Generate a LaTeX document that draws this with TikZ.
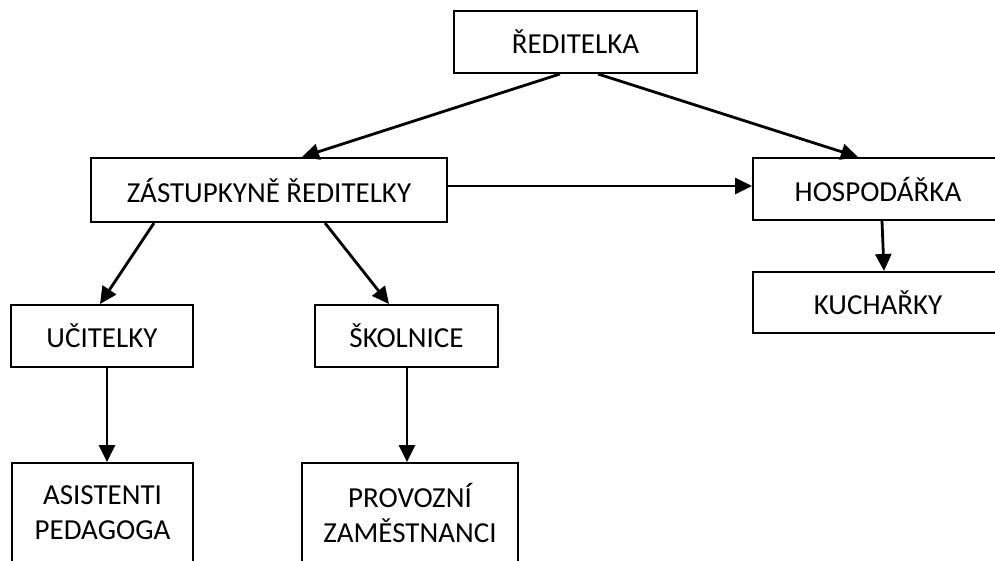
\documentclass[tikz,border=0pt]{standalone}
\usepackage{fontspec}
\setmainfont{Carlito}
\usetikzlibrary{arrows.meta,calc}
\begin{document}
\begin{tikzpicture}[x=1pt,y=-1pt,
  box/.style={draw=black,line width=2pt,fill=white,inner sep=0pt,align=center,
    font=\fontsize{29}{35}\selectfont},
  conn/.style={line width=2.8pt,-{Triangle[length=17pt,width=16pt]}}]
\useasboundingbox (0,0) rectangle (995,560);
\node[box,minimum width=243pt,minimum height=62pt] (red) at (575.5,42) {ŘEDITELKA};
\node[box,minimum width=356pt,minimum height=64pt] (zast) at (269,190) {ZÁSTUPKYNĚ ŘEDITELKY};
\node[box,minimum width=250pt,minimum height=62pt] (hosp) at (878,189) {HOSPODÁŘKA};
\node[box,minimum width=250pt,minimum height=61pt] (kuch) at (878,302.5) {KUCHAŘKY};
\node[box,minimum width=182pt,minimum height=62pt] (uc) at (102,336) {UČITELKY};
\node[box,minimum width=183pt,minimum height=62pt] (sk) at (406.5,336) {ŠKOLNICE};
\node[box,minimum width=181pt,minimum height=99pt] (as) at (102.5,512.5) {ASISTENTI\\PEDAGOGA};
\node[box,minimum width=216pt,minimum height=99pt] (pr) at (410,512.5) {PROVOZNÍ\\ZAMĚSTNANCI};
\draw[conn] ($(red.south)+(-15.5,0)$) -- ($(zast.north)+(33,0)$);
\draw[conn] ($(red.south)+(22.5,0)$) -- ($(hosp.north)+(-20,0)$);
\draw[conn] ($(zast.east)+(0,-4)$) -- ($(hosp.west)+(0,-3)$);
\draw[conn] ($(hosp.south)+(4,0)$) -- ($(kuch.north)+(6,0)$);
\draw[conn] ($(zast.south)+(-115,0)$) -- ($(uc.north)+(-2,0)$);
\draw[conn] ($(zast.south)+(56,0)$) -- ($(sk.north)+(-17.5,0)$);
\draw[conn] ($(uc.south)+(5,0)$) -- ($(as.north)+(4.5,0)$);
\draw[conn] ($(sk.south)+(0.5,0)$) -- ($(pr.north)+(-3,0)$);
\end{tikzpicture}
\end{document}
